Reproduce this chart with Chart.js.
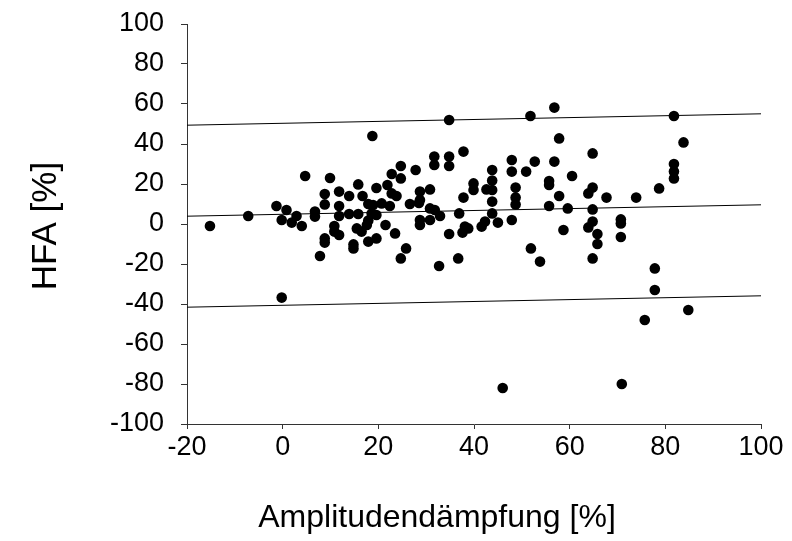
<!DOCTYPE html>
<html>
<head>
<meta charset="utf-8">
<script src="https://cdn.jsdelivr.net/npm/chart.js@4.4.0/dist/chart.umd.min.js"></script>
<style>
html, body { margin: 0; padding: 0; background: #fff; }
</style>
</head>
<body>
<canvas id="myChart" width="792" height="541"></canvas>
<script>
// values
var dampX = [
  -15.2, -7.2, -1.3, 0.8, 2.9, -0.2, 1.9, 4, 6.75, 6.75,
  4.7, 9.9, 8.8, 8.8, 11.8, 11.8, 13.9, 15.8, 16.7, 17.9,
  19.6, 18.75, 11.8, 13.9, 15.8, 17.9, 10.8, 10.8, 11.8, 8.8,
  8.8, 7.8, -0.2, 14.8, 14.8, 15.5, 16.5, 17.6, 17.9, 19.6,
  18.6, 56.8, 51.8, 34.8, 57.8, 37.8, 31.7, 31.7, 34.8, 34.8,
  47.9, 47.9, 52.7, 56.8, 50.9, 24.7, 27.8, 22.8, 24.7, 43.8,
  43.8, 43.8, 43.8, 42.6, 39.9, 39.9, 37.8, 21.9, 23.8, 22.8,
  28.7, 30.8, 28.7, 26.6, 28.5, 48.7, 48.7, 48.7, 55.7, 55.7,
  57.8, 55.7, 59.6, 60.5, 58.7, 18.9, 20.7, 22.4, 19.6, 21.5,
  23.5, 30.8, 31.8, 32.9, 28.7, 30.8, 28.7, 36.9, 34.8, 38.1,
  38.8, 37.6, 43.8, 42.3, 45, 41.6, 47.9, 51.9, 53.8, 25.8,
  24.7, 32.7, 36.7, 81.8, 83.8, 81.8, 81.8, 81.8, 78.7, 73.9,
  67.7, 64.8, 64.8, 63.9, 64.8, 64.8, 63.9, 65.8, 65.8, 64.8,
  70.7, 70.7, 70.7, 77.8, 77.8, 84.8, 75.7, 46, 70.9
];
var hfaY = [
  -1, 4, 9, 7, 4, 2, 0.7, -1, 6.2, 3.7,
  24, 23, 15, 9.8, 16.2, 9, 14, 19.8, 14, 10,
  18, 44, 4, 5, 5, 1.7, -1, -3.8, -5.5, -7.2,
  -9.3, -16, -36.8, -10.2, -12.2, -2.2, -3.8, -0.5, -8.8, -7.2,
  5.3, 58.2, 54, 52, 42.8, 36.2, 33.7, 29.5, 33.7, 29,
  32, 26.2, 31.2, 31.2, 26.2, 29, 27, 25, 22.8, 27,
  21.7, 17, 11.2, 17.3, 20.3, 17, 13.2, 19.5, 14, 15.3,
  16.2, 17.3, 12, 10, 10.5, 18.2, 13.3, 9.8, 21.5, 19.5,
  14, 9, 7.8, 24, -3, 9.5, 10.3, 9, 4.5, -0.5,
  -4.7, 7.8, 7, 4, 2, 2, -0.5, 5.3, -5, -1.3,
  -2.2, -4.3, 5.3, 1.2, 0.7, -1.3, 2, -12.2, -18.8, -12.2,
  -17.2, -21, -17.2, 54, 40.8, 30, 26.2, 22.8, 17.8, 13.2,
  13.2, 35.3, 18.2, 15.3, 7.3, 1.2, -1.7, -5, -10, -17.2,
  2.3, 0.3, -6.5, -22.2, -33, -43, -48, -82, -80
];

// mean line and the two limit lines, given at both ends of the x range
var lineX = [-20, 100];
var meanLine = [3.9, 9.6];
var upperLine = [49.4, 55.1];
var lowerLine = [-41.6, -35.9];

var xTicks = [-20, 0, 20, 40, 60, 80, 100];
var yTicks = [-100, -80, -60, -40, -20, 0, 20, 40, 60, 80, 100];

var xTitle = 'Amplitudendämpfung [%]';
var yTitle = 'HFA [%]';

function pairs(xs, ys) {
  var out = [];
  for (var i = 0; i < xs.length; i++) out.push({ x: xs[i], y: ys[i] });
  return out;
}

function lineSet(ys) {
  return {
    type: 'line',
    data: pairs(lineX, ys),
    borderColor: '#000',
    borderWidth: 1,
    pointRadius: 0,
    fill: false
  };
}

var fontName = "'Liberation Sans', Arial, sans-serif";

// axis titles sit off-centre in the original, so draw them by hand
var axisTitles = {
  id: 'axisTitles',
  afterDraw: function(chart) {
    var c = chart.ctx;
    c.save();
    c.fillStyle = '#000';
    c.textAlign = 'center';
    c.textBaseline = 'middle';
    c.font = '32px ' + fontName;
    c.fillText(xTitle, 437, 518);
    c.translate(46, 226);
    c.rotate(-Math.PI / 2);
    c.font = '35px ' + fontName;
    c.fillText(yTitle, 0, 0);
    c.restore();
  }
};

var ctx = document.getElementById("myChart");

var myChart = new Chart(ctx, {
  type: 'scatter',
  data: {
    datasets: [
      lineSet(upperLine),
      lineSet(meanLine),
      lineSet(lowerLine),
      {
        data: pairs(dampX, hfaY),
        backgroundColor: '#000',
        borderWidth: 0,
        pointRadius: 5.3
      }
    ]
  },
  options: {
    responsive: false,
    animation: false,
    layout: { padding: { top: 24, right: 31, left: 0, bottom: 0 } },
    plugins: { legend: { display: false }, tooltip: { enabled: false } },
    scales: {
      x: {
        type: 'linear',
        min: -20,
        max: 100,
        afterBuildTicks: function(scale) {
          scale.ticks = xTicks.map(function(v) { return { value: v }; });
        },
        afterFit: function(scale) {
          scale.height = 117;
          scale.paddingLeft = 0;
          scale.paddingRight = 0;
        },
        grid: { drawOnChartArea: false, tickLength: 5, color: '#333' },
        border: { color: '#333', width: 1 },
        ticks: { color: '#000', font: { family: fontName, size: 27 }, padding: 2, maxRotation: 0 }
      },
      y: {
        type: 'linear',
        min: -100,
        max: 100,
        afterBuildTicks: function(scale) {
          scale.ticks = yTicks.map(function(v) { return { value: v }; });
        },
        afterFit: function(scale) {
          scale.width = 187;
          scale.paddingTop = 0;
          scale.paddingBottom = 0;
        },
        grid: { drawOnChartArea: false, tickLength: 6, color: '#333' },
        border: { color: '#333', width: 1 },
        ticks: { color: '#000', font: { family: fontName, size: 27 }, padding: 17 }
      }
    }
  },
  plugins: [axisTitles]
});
</script>
</body>
</html>
